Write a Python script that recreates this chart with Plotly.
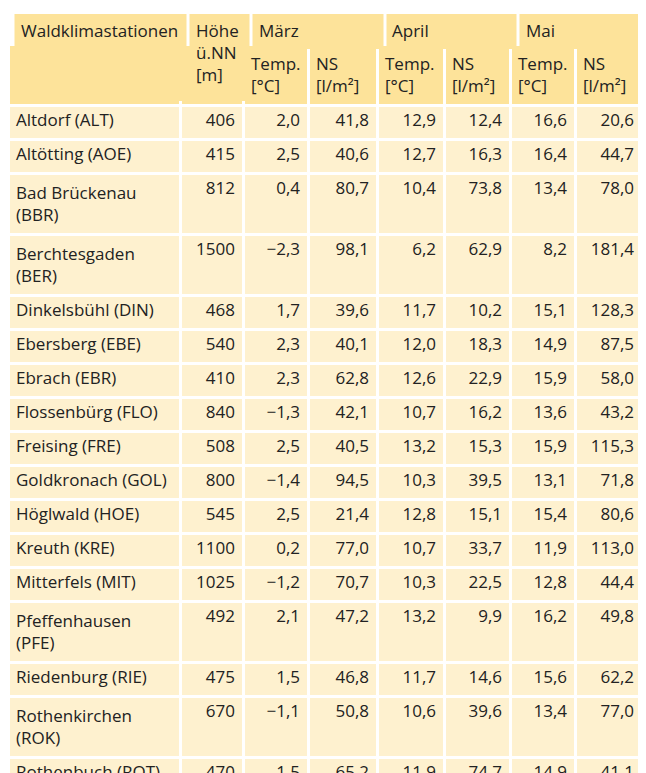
import plotly.graph_objects as go

stations = ["Altdorf (ALT)","Altötting (AOE)","Bad Brückenau (BBR)","Berchtesgaden (BER)","Dinkelsbühl (DIN)",
 "Ebersberg (EBE)","Ebrach (EBR)","Flossenbürg (FLO)","Freising (FRE)","Goldkronach (GOL)","Höglwald (HOE)",
 "Kreuth (KRE)","Mitterfels (MIT)","Pfeffenhausen (PFE)","Riedenburg (RIE)","Rothenkirchen (ROK)",
 "Rothenbuch (ROT)","Sonthofen (SON)","Taferlruck (TAF)","Würzburg (WUE)"]
hoehe = [406,415,812,1500,468,540,410,840,508,800,545,1100,1025,492,475,670,470,1170,770,330]
maerz_t = [2.0,2.5,0.4,-2.3,1.7,2.3,2.3,-1.3,2.5,-1.4,2.5,0.2,-1.2,2.1,1.5,-1.1,1.5,0.3,-1.3,3.4]
maerz_ns = [41.8,40.6,80.7,98.1,39.6,40.1,62.8,42.1,40.5,94.5,21.4,77.0,70.7,47.2,46.8,50.8,65.2,104.4,65.9,48.8]
april_t = [12.9,12.7,10.4,6.2,11.7,12.0,12.6,10.7,13.2,10.3,12.8,10.7,10.3,13.2,11.7,10.6,11.9,9.5,8.1,13.0]
april_ns = [12.4,16.3,73.8,62.9,10.2,18.3,22.9,16.2,15.3,39.5,15.1,33.7,22.5,9.9,14.6,39.6,74.7,57.7,17.7,45.5]
mai_t = [16.6,16.4,13.4,8.2,15.1,14.9,15.9,13.6,15.9,13.1,15.4,11.9,12.8,16.2,15.6,13.4,14.9,10.8,13.4,16.4]
mai_ns = [20.6,44.7,78.0,181.4,128.3,87.5,58.0,43.2,115.3,71.8,80.6,113.0,44.4,49.8,62.2,77.0,41.1,206.9,102.9,44.9]
months = ["März","April","Mai"]
sub_headers = ["Temp.<br>[°C]","NS<br>[l/m²]"]

def fmt(v):
    s = f"{v:.1f}".replace(".", ",")
    return s.replace("-", "\u2212")

W, H = 646, 773
HDR = "#fde39a"
CELL = "#fef1cf"
FONT = dict(family="Open Sans", size=17, color="#222")
OFF = 8  # plotly's internal table offset in px

# column edges in px (actual rendered)
edges = [8,180,243,308,377,444,510,575,642]
widths = [edges[i+1]-edges[i] for i in range(8)]

cols = [stations, [str(h) for h in hoehe]]
for a, b in [(maerz_t, maerz_ns),(april_t, april_ns),(mai_t, mai_ns)]:
    cols.append([fmt(v) for v in a]); cols.append([fmt(v) for v in b])

top_px = 36
fig = go.Figure(go.Table(
    columnwidth=widths,
    domain=dict(x=[0, (edges[-1]-OFF)/W], y=[0, 1-top_px/H]),
    header=dict(values=["",""]+sub_headers*3, fill_color=HDR, line=dict(color="white", width=3),
                align="left", height=52, font=FONT),
    cells=dict(values=cols, fill_color=CELL, line=dict(color="white", width=3),
               align=["left"]+["right"]*7, height=34, font=FONT),
))

def px2x(p): return p/W
def px2y(p): return 1-p/H
shapes, ann = [], []
def box(x0,x1,y0,y1,text):
    shapes.append(dict(type="rect", xref="paper", yref="paper", x0=px2x(x0), x1=px2x(x1),
                       y0=px2y(y1), y1=px2y(y0), fillcolor=HDR, line=dict(width=0), layer="above"))
    ann.append(dict(text=text, xref="paper", yref="paper", x=px2x(x0+4), y=px2y(y0+3),
                    xanchor="left", yanchor="top", showarrow=False, align="left", font=FONT))
box(edges[0]-1.5,edges[1]-1.5,6,93,"Waldklimastationen")
box(edges[1]+1.5,edges[2]-1.5,6,93,"Höhe<br>ü.NN<br>[m]")
for i, m in enumerate(months):
    x0 = edges[2+2*i]+1.5; x1 = edges[4+2*i]-1.5
    box(x0,x1,6,41,m)

fig.update_layout(width=W, height=H, margin=dict(l=0,r=0,t=0,b=0), paper_bgcolor="white",
                  shapes=shapes, annotations=ann)
fig.write_html("out.html")
